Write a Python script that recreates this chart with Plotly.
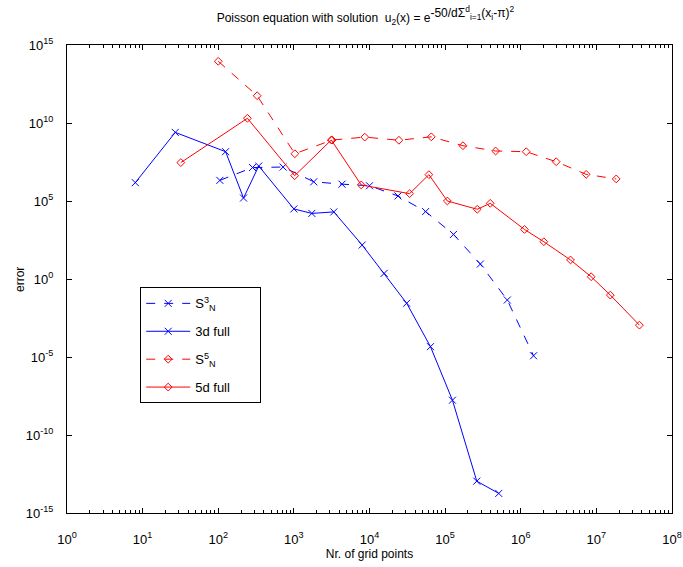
import plotly.graph_objects as go

# ---- data ----
x_s3 = [105, 284, 720, 1832, 4330, 10000, 23800, 55200, 129000, 292000, 664000, 1476000]
y_s3 = [2.1e6, 1.4e7, 1.5e7, 1.7e6, 1.2e6, 9.5e5, 2.1e5, 2.1e4, 7.2e2, 9.1e0, 4.5e-2, 1.2e-5]

x_3d = [8, 27, 125, 216, 343, 1000, 1728, 3375, 8000, 15625, 31000, 64000, 125000, 262144, 512000]
y_3d = [1.5e6, 2.5e9, 1.45e8, 1.55e5, 1.75e7, 3.1e4, 1.6e4, 2.0e4, 1.5e2, 2.3e0, 2.8e-2, 4.6e-5, 1.7e-8, 1.1e-13, 1.8e-14]

x_s5 = [100, 327, 1030, 3200, 8650, 24500, 65600, 172000, 465000, 1180000, 2940000, 7330000, 18300000]
y_s5 = [9.0e13, 5.6e11, 1.07e8, 8.1e8, 1.25e9, 7.8e8, 1.3e9, 3.5e8, 1.6e8, 1.45e8, 3.3e7, 5.1e6, 2.6e6]

x_5d = [32, 243, 1024, 3125, 7776, 33900, 61000, 107000, 266000, 395000, 1120000, 2020000, 4550000, 8530000, 15300000, 37100000]
y_5d = [2.9e7, 2.0e10, 4.2e6, 8.1e8, 1.07e6, 2.95e5, 4.9e6, 1.0e5, 2.95e4, 7.1e4, 1.5e3, 2.45e2, 1.66e1, 1.4e0, 9.3e-2, 1.1e-3]

names = ["S<sup>3</sup><sub>N</sub>", "3d full", "S<sup>5</sup><sub>N</sub>", "5d full"]

x_tick_exps = list(range(0, 9))
y_tick_exps = list(range(-15, 16, 5))

BLUE = "rgb(0,0,255)"
RED = "rgb(255,0,0)"
PAD = "&nbsp;" * 7

fig = go.Figure()
fig.add_trace(go.Scatter(x=x_s3, y=y_s3, name=names[0], legendgroup="a", mode="lines+markers",
                         line=dict(color=BLUE, width=1, dash="dash"),
                         marker=dict(symbol="x-thin-open", size=7, line=dict(color=BLUE, width=1), color=BLUE)))
fig.add_trace(go.Scatter(x=x_3d, y=y_3d, name=names[1] + PAD, legendgroup="b", mode="lines+markers",
                         line=dict(color=BLUE, width=1),
                         marker=dict(symbol="x-thin-open", size=7, line=dict(color=BLUE, width=1), color=BLUE)))
fig.add_trace(go.Scatter(x=x_s5, y=y_s5, name=names[2], legendgroup="c", mode="lines+markers",
                         line=dict(color=RED, width=1, dash="dash"),
                         marker=dict(symbol="diamond-open", size=6, line=dict(color=RED, width=1), color=RED)))
fig.add_trace(go.Scatter(x=x_5d, y=y_5d, name=names[3], legendgroup="d", mode="lines+markers",
                         line=dict(color=RED, width=1),
                         marker=dict(symbol="diamond-open", size=6, line=dict(color=RED, width=1), color=RED)))

minor_x = [m * 10 ** e for e in x_tick_exps[:-1] for m in range(2, 10)]

FONT = "Liberation Sans, Arial, sans-serif"

title_txt = ("Poisson equation with solution  u<sub>2</sub>(x) = e"
             "<sup><span style='font-size:12px'>-50/dΣ<sup>d</sup><sub>i=1</sub>(x<sub>i</sub>-π)<sup>2</sup></span></sup>")

fig.update_layout(
    width=683, height=567,
    margin=dict(l=67, r=11, t=45, b=54),
    paper_bgcolor="white", plot_bgcolor="white",
    font=dict(family=FONT, size=12, color="black"),
    showlegend=True,
    legend=dict(x=0.121, y=0.482, xanchor="left", yanchor="top",
                bordercolor="black", borderwidth=1, bgcolor="white",
                font=dict(size=13), itemwidth=44, tracegroupgap=8,
                traceorder="grouped"),
    title=dict(text=title_txt,
               x=0.535, xanchor="center", y=0.968, yanchor="middle",
               font=dict(size=12)),
    xaxis=dict(type="log", range=[0, 8], showgrid=False, zeroline=False, automargin=False,
               showline=True, linecolor="black", linewidth=1, mirror="ticks",
               ticks="inside", ticklen=5, tickcolor="black",
               tickvals=[10 ** e for e in x_tick_exps],
               ticktext=["10<sup>%d</sup>" % e for e in x_tick_exps],
               tickfont=dict(size=13), ticklabelstandoff=14,
               minor=dict(tickvals=minor_x, ticks="inside", ticklen=3, tickcolor="black", showgrid=False),
               title=dict(text="Nr. of grid points", font=dict(size=12), standoff=3)),
    yaxis=dict(type="log", range=[-15, 15], showgrid=False, zeroline=False, automargin=False,
               showline=True, linecolor="black", linewidth=1, mirror="ticks",
               ticks="inside", ticklen=5, tickcolor="black",
               tickvals=[10.0 ** e for e in y_tick_exps],
               ticktext=["10<sup>%d</sup>" % e for e in y_tick_exps],
               tickfont=dict(size=13), ticklabelstandoff=10),
    annotations=[dict(text="error", xref="paper", yref="paper", x=-0.0777, y=0.5,
                      xanchor="center", yanchor="middle", textangle=-90, showarrow=False,
                      font=dict(size=12))],
)

fig.write_html("out.html")
